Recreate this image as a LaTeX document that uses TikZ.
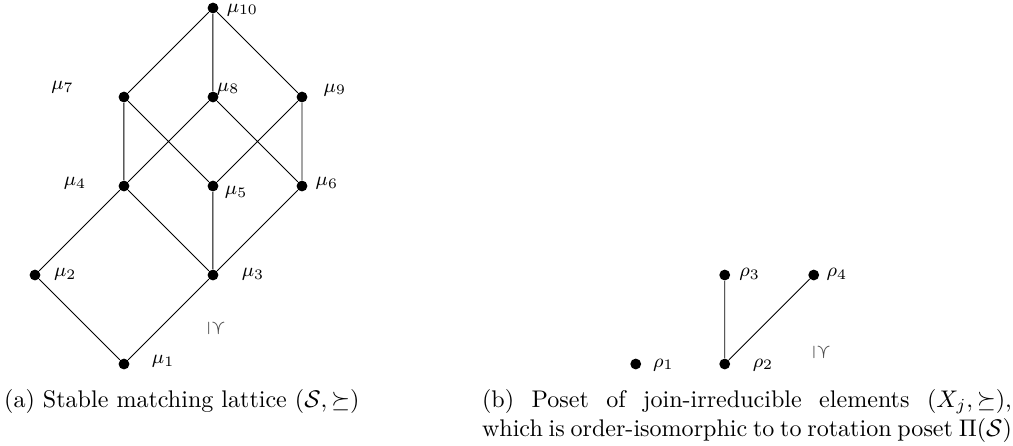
\documentclass[tikz,border=0pt]{standalone}
\usepackage{amsmath,amssymb}
\begin{document}
\begin{tikzpicture}[x=1.3cm,y=1.3cm,
  vtx/.style={circle,fill=black,inner sep=0pt,minimum size=4.5pt},
  lbl/.style={font=\footnotesize,inner sep=1pt},
  rel/.style={font=\footnotesize,rotate=-90,text=black!70}]
  \useasboundingbox (-0.393,-0.921) rectangle (10.989,4.09);
  % stable matching lattice
  \node[vtx] (m1) at (1,0) {};
  \node[vtx] (m2) at (0,1) {};
  \node[vtx] (m3) at (2,1) {};
  \node[vtx] (m4) at (1,2) {};
  \node[vtx] (m5) at (2,2) {};
  \node[vtx] (m6) at (3,2) {};
  \node[vtx] (m7) at (1,3) {};
  \node[vtx] (m8) at (2,3) {};
  \node[vtx] (m9) at (3,3) {};
  \node[vtx] (m10) at (2,4) {};
  \node[lbl] (l1) at (1.44,0.03) {$\mu_1$};
  \node[lbl] (l2) at (0.34,1.01) {$\mu_2$};
  \node[lbl] (l3) at (2.45,1.01) {$\mu_3$};
  \node[lbl] (l4) at (0.45,2.03) {$\mu_4$};
  \node[lbl] (l5) at (2.26,1.93) {$\mu_5$};
  \node[lbl] (l6) at (3.28,2.03) {$\mu_6$};
  \node[lbl] (l7) at (0.31,3.11) {$\mu_7$};
  \node[lbl] (l8) at (2.17,3.09) {$\mu_8$};
  \node[lbl] (l9) at (3.37,3.08) {$\mu_9$};
  \node[lbl] (l10) at (2.33,3.98) {$\mu_{10}$};
  \node[rel] (ra) at (2.04,0.40) {$\succeq$};
  \draw (m1) -- (m2) -- (m4) -- (m7) -- (m10) -- (m8) -- (m4) -- (m3) -- (m1)
  (m3) -- (m5) -- (m7)
  (m3) -- (m6) -- (m9) -- (m10)
  (m5) -- (m9)
  (m6) -- (m8);
  % join-irreducible elements
  \node[vtx] (r1) at (6.75,0) {};
  \node[vtx] (r2) at (7.75,0) {};
  \node[vtx] (r3) at (7.75,1) {};
  \node[vtx] (r4) at (8.75,1) {};
  \node[lbl] (k1) at (7.06,-0.01) {$\rho_1$};
  \node[lbl] (k2) at (8.18,-0.01) {$\rho_2$};
  \node[lbl] (k3) at (8.03,1.01) {$\rho_3$};
  \node[lbl] (k4) at (9.01,1.01) {$\rho_4$};
  \node[rel] (rb) at (8.84,0.13) {$\succeq$};
  \draw (r3) -- (r2) -- (r4);
  % captions
  \node (capa) at (1.65,-0.42) {(a) Stable matching lattice $(\mathcal{S},\succeq)$};
  \node[text width=7.74cm,align=justify,inner sep=0pt] (capb) at (8.0,-0.58)
    {\parfillskip=0pt (b) Poset of join-irreducible elements $(X_j,\succeq)$,\linebreak which is order-isomorphic to to rotation poset $\Pi(\mathcal{S})$};
\end{tikzpicture}
\end{document}
